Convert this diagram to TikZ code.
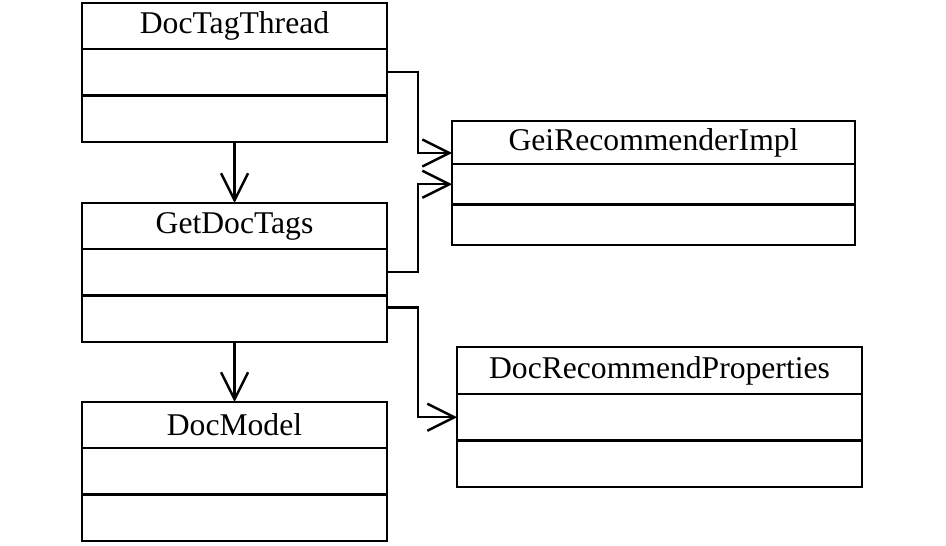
\documentclass[tikz,border=0pt]{standalone}
\usepackage{fontspec}
\setmainfont{Liberation Serif}
\usetikzlibrary{arrows.meta,positioning}

\begin{document}
\begin{tikzpicture}[
  cls/.style={draw, line width=1.4pt, outer sep=0pt, inner sep=0pt, minimum width=6.1cm, minimum height=0.92cm, font=\fontsize{18}{21}\selectfont},
  row/.style={draw, line width=1.4pt, outer sep=0pt, inner sep=0pt, minimum width=6.1cm, minimum height=0.93cm},
  arr/.style={-{Straight Barb[length=0.54cm, width=0.54cm, line width=1.4pt]}, line width=1.4pt}
]
\useasboundingbox (0,0) rectangle (18.92,-10.92);
% left column
\node[cls] (thread) at (4.69,-0.52) {DocTagThread};
\node[row, below=0pt of thread] (thread-a) {};
\node[row, below=0pt of thread-a] (thread-b) {};
\node[cls] (tags) at (4.69,-4.52) {GetDocTags};
\node[row, below=0pt of tags] (tags-a) {};
\node[row, below=0pt of tags-a] (tags-b) {};
\node[cls] (model) at (4.69,-8.50) {DocModel};
\node[row, below=0pt of model] (model-a) {};
\node[row, below=0pt of model-a] (model-b) {};
% right column
\node[cls, minimum width=8.06cm, minimum height=0.86cm] (impl) at (13.07,-2.85) {GeiRecommenderImpl};
\node[row, minimum width=8.06cm, minimum height=0.81cm, below=0pt of impl] (impl-a) {};
\node[row, minimum width=8.06cm, minimum height=0.81cm, below=0pt of impl-a] (impl-b) {};
\node[cls, minimum width=8.1cm, minimum height=0.94cm] (props) at (13.19,-7.41) {DocRecommendProperties};
\node[row, minimum width=8.1cm, below=0pt of props] (props-a) {};
\node[row, minimum width=8.1cm, below=0pt of props-a] (props-b) {};
% connectors
\draw[arr] (thread-b.south) -- (tags.north);
\draw[arr] (tags-b.south) -- (model.north);
\draw[arr] (thread-a.east) -- ++(0.62,0) |- ([yshift=0.22cm]impl.south west);
\draw[arr] (tags-a.east) -- ++(0.62,0) |- (impl-a.west);
\draw[arr] ([yshift=-0.24cm]tags-b.north east) -- ++(0.62,0) |- (props-a.west);
\end{tikzpicture}
\end{document}
